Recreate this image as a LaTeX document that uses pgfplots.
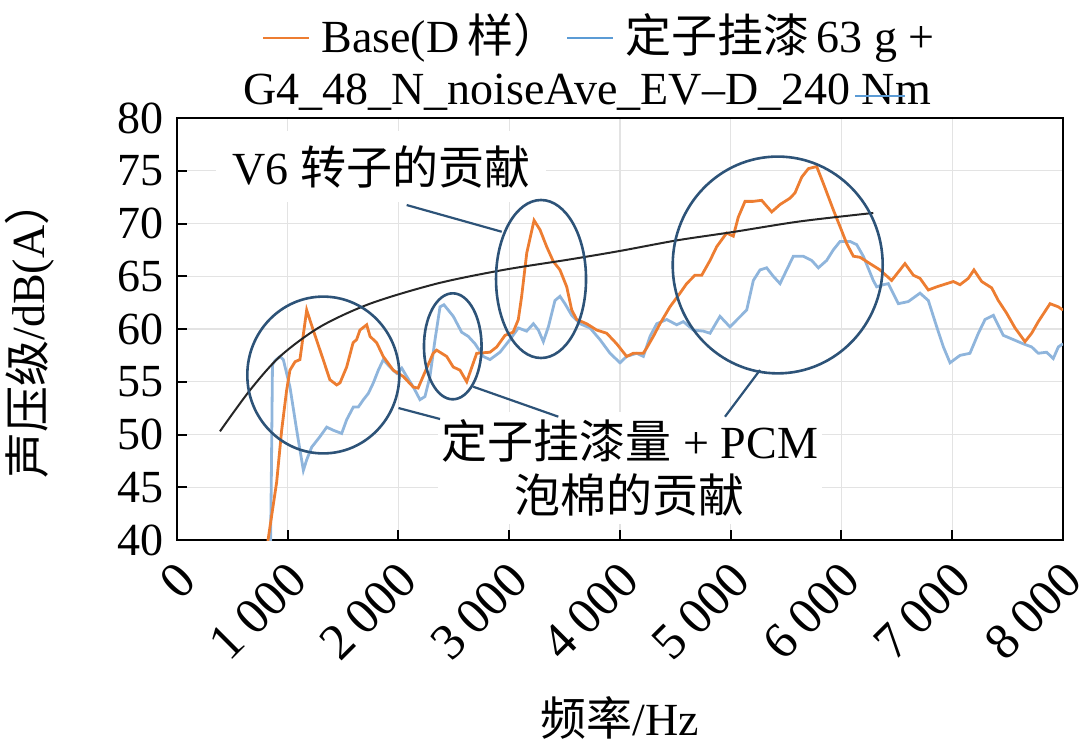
\documentclass[border=0pt]{standalone}
\usepackage{fontspec}
\setmainfont{Liberation Serif}
\newfontfamily\cjk{Noto Sans CJK SC}
\usepackage{pgfplots}
\usepackage{pgfplotstable}
\pgfplotsset{compat=1.18}
\definecolor{cOr}{RGB}{237,125,49}
\definecolor{cBl}{RGB}{143,181,220}
\definecolor{cBlLeg}{RGB}{91,155,213}
\definecolor{cEl}{RGB}{45,83,120}

\pgfplotstableread{
f db
810 38.0
822 40.0
900 45.5
945 50.4
990 54.2
1020 56.1
1066 56.9
1110 57.1
1171 61.8
1230 59.9
1320 57.1
1380 55.2
1442 54.7
1472 54.9
1532 56.4
1590 58.7
1622 59.0
1652 59.9
1713 60.4
1743 59.3
1803 58.7
1862 57.4
1952 56.1
2043 55.5
2133 54.5
2177 54.4
2222 55.5
2313 57.7
2344 58.0
2435 57.4
2494 56.4
2555 56.1
2616 55.0
2706 57.7
2826 57.8
2887 58.3
2962 59.4
3035 59.7
3082 60.9
3112 63.1
3158 67.2
3224 70.3
3278 69.4
3338 67.8
3398 66.4
3458 65.6
3519 64.0
3564 61.8
3609 60.9
3699 60.5
3790 59.9
3880 59.6
3970 58.6
4060 57.4
4120 57.7
4210 57.7
4241 58.2
4301 59.3
4361 60.5
4451 62.1
4542 63.4
4602 64.3
4677 65.1
4738 65.1
4813 66.5
4873 67.8
4963 69.1
5023 68.8
5068 70.6
5129 72.1
5204 72.1
5279 72.2
5370 71.1
5445 71.8
5535 72.4
5580 72.9
5641 74.4
5701 75.2
5776 75.4
5836 73.8
5926 71.3
5987 69.7
6047 68.1
6107 66.9
6167 66.8
6257 66.2
6348 65.6
6453 64.6
6513 65.4
6573 66.2
6649 65.1
6709 64.8
6784 63.7
6860 64.0
6950 64.3
7010 64.5
7070 64.2
7145 64.8
7196 65.6
7266 64.5
7356 63.9
7416 62.7
7491 61.5
7567 60.1
7657 58.8
7717 59.6
7777 60.7
7883 62.4
7958 62.1
8000 61.8
}\base

\pgfplotstableread{
f db
843 38.0
853 47.0
862 56.6
885 57.0
930 57.4
960 57.1
1020 54.5
1081 50.4
1141 46.6
1171 47.6
1216 48.8
1291 49.8
1352 50.7
1412 50.4
1487 50.1
1532 51.4
1592 52.6
1637 52.6
1683 53.3
1728 53.9
1773 54.9
1818 56.1
1863 57.1
1923 56.4
1983 55.8
2029 56.3
2074 55.5
2134 54.5
2194 53.3
2239 53.6
2284 55.5
2330 59.0
2375 62.1
2410 62.3
2495 61.2
2570 59.7
2630 59.3
2691 58.6
2766 57.4
2826 57.1
2916 57.8
3007 59.0
3082 60.1
3157 59.8
3218 60.5
3263 59.9
3308 58.8
3353 60.2
3413 62.7
3458 63.1
3503 62.4
3564 61.3
3639 60.5
3729 60.1
3819 59.0
3910 57.7
4000 56.8
4060 57.4
4151 57.7
4211 57.4
4271 59.3
4332 60.5
4422 60.9
4512 60.4
4572 60.7
4662 59.9
4752 59.8
4813 59.6
4903 61.2
4993 60.2
5068 61.0
5144 61.8
5204 64.6
5264 65.6
5324 65.8
5384 65.0
5445 64.3
5505 65.6
5565 66.9
5655 66.9
5731 66.5
5791 65.8
5866 66.5
5926 67.5
5987 68.3
6077 68.3
6137 68.0
6197 66.9
6287 64.6
6318 64.0
6378 64.2
6423 64.3
6513 62.4
6603 62.6
6709 63.4
6784 62.7
6860 60.2
6920 58.3
6980 56.8
7070 57.5
7160 57.7
7236 59.6
7296 60.9
7371 61.3
7461 59.4
7551 59.0
7641 58.6
7717 58.3
7777 57.7
7852 57.8
7912 57.2
7958 58.3
8000 58.6
}\treated

\pgfplotstableread{
f db
388 50.3
659 54.2
930 57.4
1291 60.2
1743 62.4
2345 64.3
2947 65.6
3549 66.6
4000 67.4
4512 68.4
5023 69.2
5625 70.2
6287 71.0
}\trend

\begin{document}
\begin{tikzpicture}[font=\fontsize{23}{27}\selectfont]
\path[use as bounding box] (-88.5pt,-103pt) rectangle (451.5pt,270pt);
\begin{axis}[
  at={(0,0)}, anchor=south west,
  width=443pt, height=211pt, scale only axis,
  xmin=0, xmax=8000, ymin=40, ymax=80,
  xtick={0,1000,...,8000}, ytick={40,45,...,80},
  grid=major, grid style={gray!22, line width=0.6pt},
  axis line style={line width=1pt, black},
  tick align=inside, tick pos=left,
  major tick length=5pt,
  every tick/.style={black, line width=1pt},
  scaled x ticks=false,
  /pgf/number format/assume math mode=true,
  /pgf/number format/1000 sep={\hspace{0.2em}},
  xticklabel style={font=\fontsize{25.5}{29}\selectfont, xshift=7.3pt, yshift=-13.4pt, rotate=45, anchor=east},
  yticklabel style={xshift=-3pt},
  xlabel={{\cjk 频率}/Hz},
  ylabel={{\cjk 声压级}/dB(A{\cjk ）}},
  xlabel style={at={(axis description cs:0.5,0)}, anchor=center, yshift=-89pt},
  ylabel style={at={(axis description cs:-0.1659,0.5)}, anchor=center},
]
\node[fill=white, inner xsep=8pt, inner ysep=7pt] at (axis cs:1845,75.38) {V6 {\cjk 转子的贡献}};
\node[fill=white, inner xsep=2pt, inner ysep=4pt, align=center] at (axis cs:4090,46.82) {{\cjk 定子挂漆量} + PCM\\{\cjk 泡棉的贡献}};

\addplot[cBl, line width=1.4pt] table[x=f,y=db] {\treated};
\addplot[cOr, line width=1.4pt] table[x=f,y=db] {\base};
\addplot[black!85, line width=1pt, smooth] table[x=f,y=db] {\trend};

\draw[cEl, line width=1.3pt] (axis cs:1321,55.64) ellipse [x radius=38pt, y radius=39.2pt];
\draw[cEl, line width=1.3pt] (axis cs:2490,58.36) ellipse [x radius=14.4pt, y radius=26.5pt];
\draw[cEl, line width=1.3pt] (axis cs:3287,64.74) ellipse [x radius=22.5pt, y radius=39.5pt];
\draw[cEl, line width=1.3pt] (axis cs:5424,66.07) ellipse [x radius=52.5pt, y radius=54.2pt];

\draw[cEl, line width=1.1pt] (axis cs:2074,71.75) -- (axis cs:2932,69.22);
\draw[cEl, line width=1.1pt] (axis cs:2000,52.51) -- (axis cs:2375,51.47);
\draw[cEl, line width=1.1pt] (axis cs:2675,54.53) -- (axis cs:3443,51.69);
\draw[cEl, line width=1.1pt] (axis cs:5264,56.11) -- (axis cs:4948,51.69);
\end{axis}
\node at (211pt,251pt) {\textcolor{cOr}{\rule[0.3em]{23pt}{1.2pt}}\hspace{6pt}Base(D\,{\cjk 样）}\hspace{4pt}\textcolor{cBlLeg}{\rule[0.3em]{23pt}{1.2pt}}\hspace{6pt}{\cjk 定子挂漆}\,63 g +};
\node at (205pt,224pt) {G4\_48\_N\_noiseAve\_EV\textendash D\_240 Nm};
\draw[cBlLeg, line width=1.2pt] (339pt,222pt) -- (364pt,222pt);
\end{tikzpicture}
\end{document}
